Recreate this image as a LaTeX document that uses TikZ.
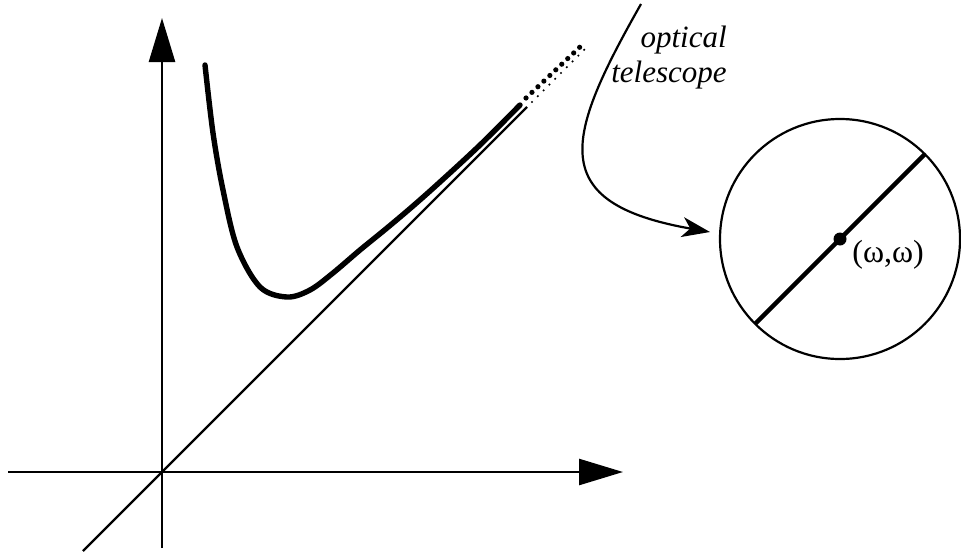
\documentclass[tikz,border=0pt]{standalone}
\usepackage{fontspec}
\setmainfont{Liberation Serif}
\newfontfamily\timesfont{Liberation Serif}
\usetikzlibrary{arrows.meta,calc}

\begin{document}
\begin{tikzpicture}[x=0.5pt,y=0.5pt,
  axis/.style={line width=1.3pt,-{Triangle[length=22pt,width=13pt]}},
  thinline/.style={line width=1.1pt},
  thickline/.style={line width=2.7pt,line cap=round},
  bigdots/.style={line width=2.6pt,line cap=round,dash pattern=on 0pt off 4.1pt},
  smalldots/.style={line width=1.2pt,line cap=round,dash pattern=on 0pt off 4.1pt},
  lbl/.style={inner sep=0pt,font=\timesfont\fontsize{15.5}{17}\selectfont}]
  \useasboundingbox (0,0) rectangle (961,553);
  \coordinate (O) at (162,81);
  \coordinate (xl) at (8,81);
  \coordinate (xr) at (623,81);
  \coordinate (yb) at (162,5);
  \coordinate (yt) at (162,535);
  \coordinate (dl) at (83,2);
  \coordinate (dr) at (527,446);
  \coordinate (C) at (840,314);
  % axes and the diagonal
  \draw[axis] (xl) -- (xr);
  \draw[axis] (yb) -- (yt);
  \draw[thinline] (dl) -- (dr);
  \draw[smalldots] (532,451) -- (586,505);
  % the curve
  \draw[thickline] plot[smooth,tension=0.55] coordinates {(205,488) (213,420) (223,363)
    (237,306) (260,266) (287,256) (310,263) (333,280) (360,303) (387,325)
    (413,347) (440,371) (480,408) (520,448)};
  \draw[bigdots] (526,455) -- (581,507);
  % the telescope view
  \draw[line width=1.1pt] (C) circle[radius=120];
  \draw[line width=2.2pt] ($(C)+(-85,-85)$) -- ($(C)+(85,85)$);
  \fill (C) circle[radius=6.5];
  \node[lbl,anchor=west,font=\timesfont\fontsize{16}{18}\selectfont] (w) at (852,298) {(ω,ω)};
  \node[lbl,anchor=base east] (opt) at (727,505) {\itshape optical};
  \node[lbl,anchor=base east] (tel) at (727,471) {\itshape telescope};
  \coordinate (from) at (641,549);
  \coordinate (to) at (710,321);
  \draw[line width=1.1pt,-{Stealth[length=14pt,width=10pt,inset=4pt]}]
    (from) .. controls (565,415) and (545,350) .. (to);
\end{tikzpicture}
\end{document}
